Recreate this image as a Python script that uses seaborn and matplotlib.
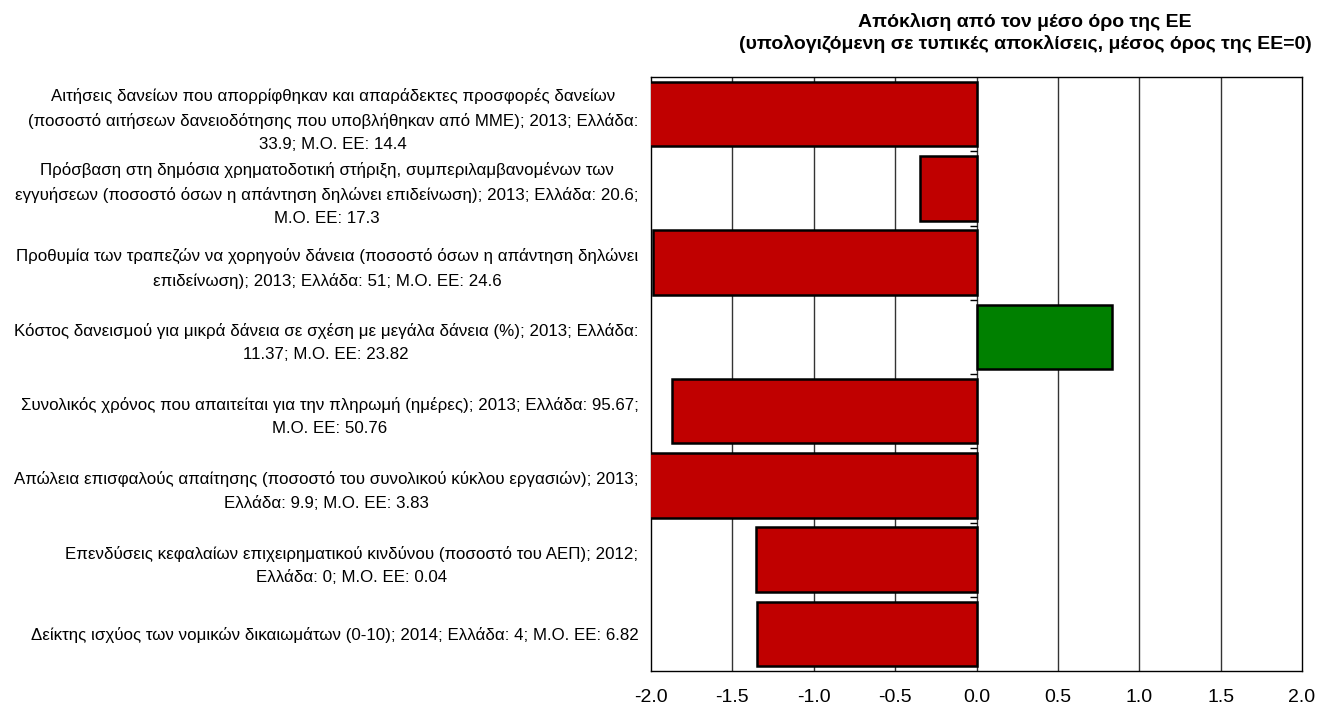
import numpy as np
import pandas as pd
import matplotlib
matplotlib.use("Agg")
import matplotlib.pyplot as plt
import seaborn as sns

labels = [
    "Αιτήσεις δανείων που απορρίφθηκαν και απαράδεκτες προσφορές δανείων\n(ποσοστό αιτήσεων δανειοδότησης που υποβλήθηκαν από ΜΜΕ); 2013; Ελλάδα:\n33.9; Μ.Ο. ΕΕ: 14.4",
    "Πρόσβαση στη δημόσια χρηματοδοτική στήριξη, συμπεριλαμβανομένων των\nεγγυήσεων (ποσοστό όσων η απάντηση δηλώνει επιδείνωση); 2013; Ελλάδα: 20.6;\nΜ.Ο. ΕΕ: 17.3",
    "Προθυμία των τραπεζών να χορηγούν δάνεια (ποσοστό όσων η απάντηση δηλώνει\nεπιδείνωση); 2013; Ελλάδα: 51; Μ.Ο. ΕΕ: 24.6",
    "Κόστος δανεισμού για μικρά δάνεια σε σχέση με μεγάλα δάνεια (%); 2013; Ελλάδα:\n11.37; Μ.Ο. ΕΕ: 23.82",
    "Συνολικός χρόνος που απαιτείται για την πληρωμή (ημέρες); 2013; Ελλάδα: 95.67;\nΜ.Ο. ΕΕ: 50.76",
    "Απώλεια επισφαλούς απαίτησης (ποσοστό του συνολικού κύκλου εργασιών); 2013;\nΕλλάδα: 9.9; Μ.Ο. ΕΕ: 3.83",
    "Επενδύσεις κεφαλαίων επιχειρηματικού κινδύνου (ποσοστό του ΑΕΠ); 2012;\nΕλλάδα: 0; Μ.Ο. ΕΕ: 0.04",
    "Δείκτης ισχύος των νομικών δικαιωμάτων (0-10); 2014; Ελλάδα: 4; Μ.Ο. ΕΕ: 6.82",
]
values = [-2.1, -0.35, -1.99, 0.83, -1.87, -2.1, -1.355, -1.35]
xticks = [-2.0, -1.5, -1.0, -0.5, 0.0, 0.5, 1.0, 1.5, 2.0]
title = "Απόκλιση από τον μέσο όρο της ΕΕ\n(υπολογιζόμενη σε τυπικές αποκλίσεις, μέσος όρος της ΕΕ=0)"

RED = "#C00000"
GREEN = "#008000"

sns.set_theme(style="white")
plt.rcParams["font.family"] = ["Liberation Sans", "DejaVu Sans"]
plt.rcParams["text.color"] = "black"
plt.rcParams["xtick.color"] = "black"
plt.rcParams["ytick.color"] = "black"

df = pd.DataFrame({"label": labels, "value": values})
colors = {l: (GREEN if v > 0 else RED) for l, v in zip(labels, values)}

fig = plt.figure(figsize=(13.31, 7.06), dpi=100)
ax = fig.add_axes([651 / 1331, 1 - 671 / 706, (1302 - 651) / 1331, (671 - 77) / 706])

sns.barplot(data=df, x="value", y="label", hue="label", palette=colors,
            orient="h", legend=False, ax=ax, width=0.87,
            edgecolor="black", linewidth=1.8, saturation=1, zorder=3)

ax.set_xlim(-2.0, 2.0)
ax.set_ylim(len(labels) - 0.5, -0.5)
ax.set_xticks(xticks)
ax.set_xticklabels([f"{t:.1f}" for t in xticks], fontsize=14)
ax.tick_params(axis="x", length=0, pad=13, labelcolor="black")
ax.tick_params(axis="y", length=0, pad=9, labelsize=12.2, labelcolor="black")
for t in ax.get_yticklabels():
    t.set_multialignment("center")
    t.set_linespacing(1.68)
ax.set_xlabel("")
ax.set_ylabel("")

for x in xticks[1:-1]:
    ax.axvline(x, color="#333333", lw=1.0, zorder=1)

# small tick marks on the zero line at category boundaries
bounds = np.arange(len(labels) - 1) + 0.5
ax.plot(np.zeros_like(bounds), bounds, marker=0, ls="none", color="black",
        ms=5, mew=1, zorder=2)

for s in ax.spines.values():
    s.set_visible(True)
    s.set_color("black")
    s.set_linewidth(1.0)

fig.text(1025 / 1331, 1 - 33 / 706, title, ha="center", va="center",
         fontsize=14, fontweight="bold", linespacing=1.3, color="black")

fig.savefig("out.png", dpi=100, facecolor="white")
